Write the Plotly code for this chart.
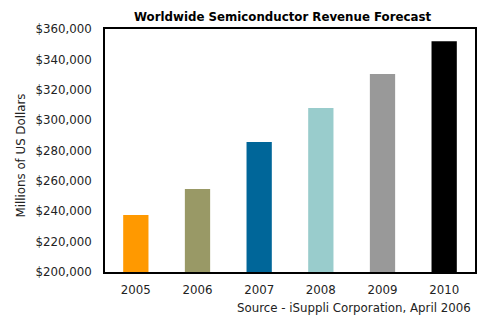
import plotly.graph_objects as go

years = ["2005", "2006", "2007", "2008", "2009", "2010"]
revenue = [237500, 254700, 285600, 308000, 330400, 352000]
colors = ["#FF9900", "#999966", "#006699", "#99CCCC", "#999999", "#000000"]
tick_vals = [200000, 220000, 240000, 260000, 280000, 300000, 320000, 340000, 360000]
tick_text = ["$" + format(v, ",") for v in tick_vals]

font = "DejaVu Sans, Verdana, sans-serif"
fs = 11.8

fig = go.Figure(go.Bar(x=years, y=revenue, marker=dict(color=colors, line=dict(width=0))))

fig.update_layout(
    width=492, height=322,
    margin=dict(l=105, r=17, t=29, b=50),
    paper_bgcolor="white", plot_bgcolor="white",
    bargap=0.59,
    showlegend=False,
    font=dict(family=font, size=fs, color="#222"),
    xaxis=dict(showline=True, linecolor="black", linewidth=1.5, mirror=True,
               ticks="", ticklabelstandoff=6, tickfont=dict(size=fs)),
    yaxis=dict(range=[200000, 360000], tickvals=tick_vals, ticktext=tick_text,
               showline=True, linecolor="black", linewidth=1.5, mirror=True,
               showgrid=False, ticks="", ticklabelstandoff=9, zeroline=False,
               tickfont=dict(size=fs)),
    annotations=[
        dict(text="<b>Worldwide Semiconductor Revenue Forecast</b>", xref="paper", yref="paper",
             x=0.48, y=1, yshift=3, xanchor="center", yanchor="bottom", showarrow=False,
             font=dict(size=fs, color="black")),
        dict(text="Millions of US Dollars", xref="paper", yref="paper", x=0, xshift=-85,
             y=0.5, yshift=-5, textangle=-90, xanchor="center", yanchor="middle", showarrow=False,
             font=dict(size=fs, color="#222")),
        dict(text="Source - iSuppli Corporation, April 2006", xref="paper", yref="paper",
             x=1, xshift=-2, y=0, yshift=-27, xanchor="right", yanchor="top", showarrow=False,
             font=dict(size=fs, color="#222")),
    ],
)

fig.write_html("out.html")
